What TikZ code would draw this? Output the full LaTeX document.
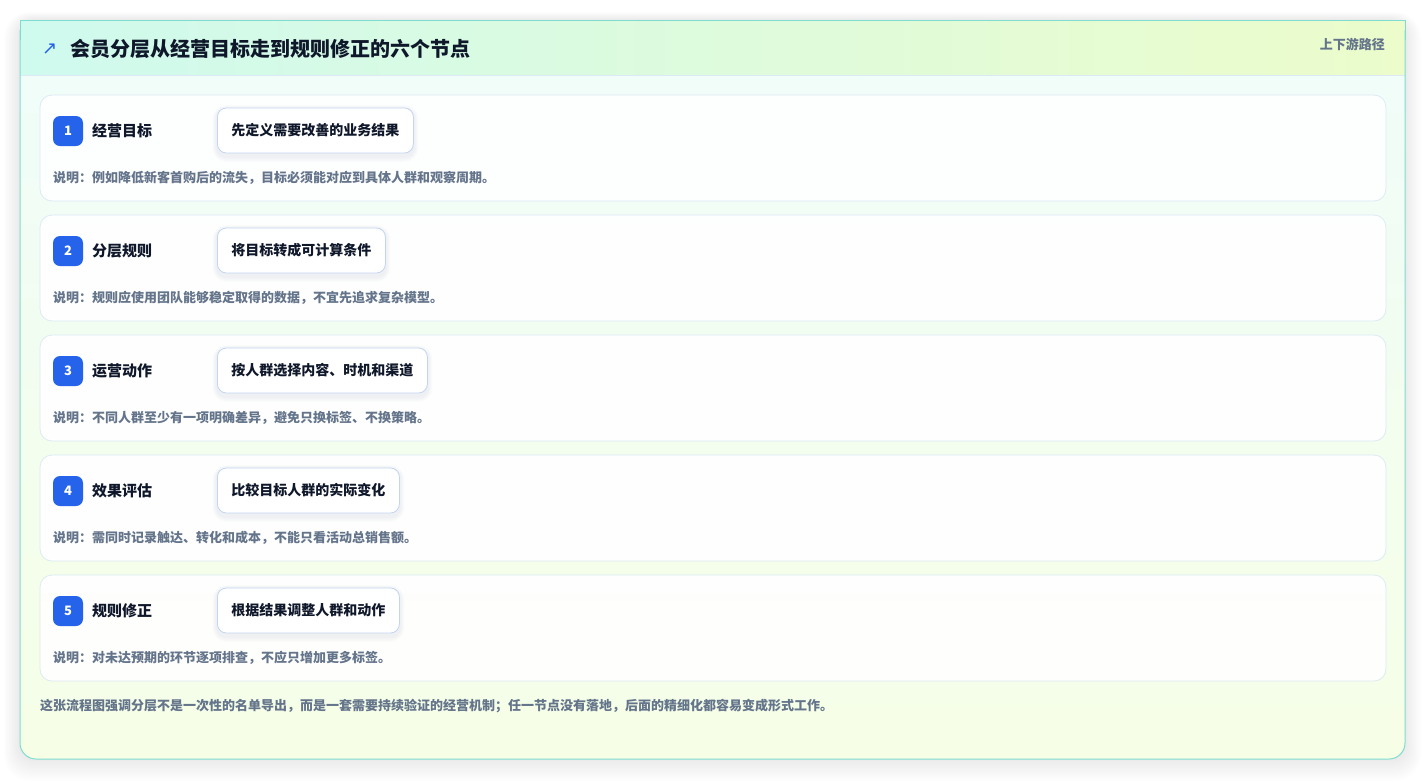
\documentclass[tikz,border=0pt]{standalone}
\usepackage{fontspec}
\setmainfont{Noto Sans CJK SC}
\newfontfamily\symfont{DejaVu Sans}
\definecolor{cardborder}{HTML}{7EDDD0}
\definecolor{hdrL}{HTML}{CFFAEE}
\definecolor{hdrR}{HTML}{ECFCCB}
\definecolor{bodyT}{HTML}{EFFDFA}
\definecolor{bodyB}{HTML}{F6FEE6}
\definecolor{rowborder}{HTML}{DCEAF5}
\definecolor{pillborder}{HTML}{C3D5F0}
\definecolor{badgeblue}{HTML}{2563EB}
\definecolor{ink}{HTML}{0F172A}
\definecolor{muted}{HTML}{64748B}
\definecolor{shadowc}{HTML}{64748B}
\tikzset{
  rowbox/.style={draw=rowborder, line width=0.8pt, fill=white, fill opacity=0.9, rounded corners=12pt},
  badge/.style={fill=badgeblue, rounded corners=7pt, minimum width=30pt, minimum height=30pt, inner sep=0pt, text=white, font=\bfseries\fontsize{13}{13}\selectfont},
  steplabel/.style={anchor=west, inner sep=0pt, text=ink, font=\bfseries\fontsize{15}{15}\selectfont},
  pill/.style={anchor=west, draw=pillborder, line width=0.8pt, fill=white, rounded corners=9pt, minimum height=45pt, inner xsep=14pt, text=ink, font=\bfseries\fontsize{14}{14}\selectfont},
  desc/.style={anchor=west, inner sep=0pt, text=muted, font=\bfseries\fontsize{13}{13}\selectfont},
}
\begin{document}
\begin{tikzpicture}[x=1pt,y=-1pt]
\useasboundingbox (0,0) rectangle (1426,780);
\fill[white] (0,0) rectangle (1426,780);
% card shadow (layered)
\foreach \s in {1,...,10}{
  \fill[black, opacity=0.008, rounded corners=16pt+\s pt] (20-\s*1.6,20-\s*0.8) rectangle (1405+\s*1.6,759+\s*2.2);
}
\shade[top color=bodyT, bottom color=bodyB, rounded corners=16pt] (20,20) rectangle (1405,759);
\shade[left color=hdrL, right color=hdrR] (20,20) rectangle (1405,75);
\draw[rowborder, line width=0.8pt] (20,75) -- (1405,75);
\draw[cardborder, line width=1pt] (20,40) -- (20,20) -- (1405,20) -- (1405,40);
\draw[cardborder, line width=1pt, rounded corners=16pt] (20,30) -- (20,759) -- (1405,759) -- (1405,30);
% header
\node[anchor=west, inner sep=0pt, text=badgeblue, font=\symfont\fontsize{18}{18}\selectfont] (icon) at (42,49) {↗};
\node[anchor=west, inner sep=0pt, text=ink, font=\bfseries\fontsize{20}{20}\selectfont] (title) at (70,49) {会员分层从经营目标走到规则修正的六个节点};
\node[anchor=east, inner sep=0pt, text=muted, font=\bfseries\fontsize{13}{13}\selectfont] (tag) at (1385,44) {上下游路径};
% rows
\foreach \i/\lab/\pl/\ds in {
  0/经营目标/先定义需要改善的业务结果/说明：例如降低新客首购后的流失，目标必须能对应到具体人群和观察周期。,
  1/分层规则/将目标转成可计算条件/说明：规则应使用团队能够稳定取得的数据，不宜先追求复杂模型。,
  2/运营动作/按人群选择内容、时机和渠道/说明：不同人群至少有一项明确差异，避免只换标签、不换策略。,
  3/效果评估/比较目标人群的实际变化/说明：需同时记录触达、转化和成本，不能只看活动总销售额。,
  4/规则修正/根据结果调整人群和动作/说明：对未达预期的环节逐项排查，不应只增加更多标签。}
{
  \pgfmathsetmacro{\dy}{120*\i}
  \pgfmathtruncatemacro{\n}{\i+1}
  \draw[rowbox] (40,95+\dy) rectangle (1386,201+\dy);
  \node[badge] (b\n) at (68,131+\dy) {\n};
  \node[steplabel] (l\n) at (92,131+\dy) {\lab};
  \node[pill, draw=none, fill=none, text opacity=0] (p\n) at (217,130.5+\dy) {\pl};
  \foreach \k in {1,...,5}{
    \fill[shadowc, opacity=0.016, rounded corners=9pt+\k pt] ([xshift=-\k*0.9pt, yshift=-2pt+\k*0.9pt]p\n.north west) rectangle ([xshift=\k*0.9pt, yshift=-3pt-\k*1.1pt]p\n.south east);
  }
  \node[pill] at (217,130.5+\dy) {\pl};
  \node[desc] (d\n) at (53,178+\dy) {\ds};
}
\node[desc, anchor=west] (foot) at (40,706) {这张流程图强调分层不是一次性的名单导出，而是一套需要持续验证的经营机制；任一节点没有落地，后面的精细化都容易变成形式工作。};
\end{tikzpicture}
\end{document}
